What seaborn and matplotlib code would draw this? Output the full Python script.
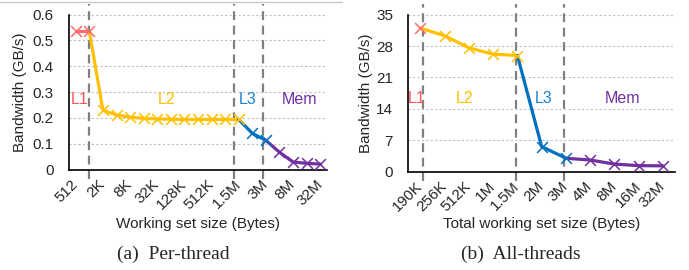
import numpy as np
import pandas as pd
import matplotlib
matplotlib.use('Agg')
import matplotlib.pyplot as plt
import seaborn as sns
from matplotlib.lines import Line2D

# (a) per-thread sweep
pt_sizes = ['512', '1K', '2K', '4K', '8K', '16K', '32K', '64K', '128K', '256K',
            '512K', '1M', '1.5M', '2M', '3M', '4M', '8M', '16M', '32M']
pt_bw = [0.535, 0.535, 0.230, 0.211, 0.203, 0.198, 0.196, 0.195, 0.194, 0.194,
         0.194, 0.194, 0.194, 0.140, 0.113, 0.067, 0.029, 0.024, 0.021]
pt_level = ['L1'] * 2 + ['L2'] * 11 + ['L3'] * 2 + ['Mem'] * 4
pt_bounds = [1.0, 11.65, 13.8]

# (b) all-threads sweep
at_sizes = ['190K', '256K', '512K', '1M', '1.5M', '2M', '3M', '4M', '8M', '16M', '32M']
at_bw = [32.0, 30.3, 27.6, 26.2, 25.9, 5.6, 3.0, 2.6, 1.7, 1.35, 1.3]
at_level = ['L1'] + ['L2'] * 4 + ['L3'] * 2 + ['Mem'] * 4
at_bounds = [0.1, 3.95, 5.93]

LEVELS = ['L1', 'L2', 'L3', 'Mem']
COLORS = {'L1': '#FF6B6B', 'L2': '#FFC000', 'L3': '#0070C0', 'Mem': '#7030A0'}
TEXT_COLORS = {'L1': '#FF5555', 'L2': '#FFC000', 'L3': '#1A82CF', 'Mem': '#7030A0'}
FS = 11

sns.set_style('white')
plt.rcParams['font.family'] = ['Liberation Sans', 'DejaVu Sans']


def draw_sweep(ax, sizes, bw, level):
    df = pd.DataFrame({'pos': np.arange(len(sizes)), 'bw': bw, 'level': level})
    prev = None
    for lv in LEVELS:
        seg = df[df['level'] == lv]
        line = seg if prev is None else pd.concat([prev.tail(1), seg])
        if len(line) > 1:
            sns.lineplot(data=line, x='pos', y='bw', color=COLORS[lv], lw=2.3,
                         ax=ax, sort=False, estimator=None, zorder=3)
        sns.scatterplot(data=seg, x='pos', y='bw', marker='x', s=60,
                        color=COLORS[lv], linewidth=1.1, ax=ax, zorder=4)
        prev = seg


def style_axes(ax, n, yticks, ylabels, bounds, label_every, xlabels, ylab_x, xlab, xlab_y):
    ax.set_xlim(-0.5, n - 0.5)
    ax.set_ylim(0, yticks[-1])
    ax.set_yticks(yticks)
    ax.set_yticklabels(ylabels, fontsize=FS)
    ax.yaxis.grid(True, color='#C0C0C0', lw=0.8, linestyle=(0, (2, 2)))
    ax.xaxis.grid(False)
    ax.set_axisbelow(True)
    for s in ['top', 'right']:
        ax.spines[s].set_visible(False)
    for s in ['left', 'bottom']:
        ax.spines[s].set_color('black')
        ax.spines[s].set_linewidth(1.2)
    ax.tick_params(axis='y', direction='out', length=3, width=1, pad=8)
    # labels at category centres, tick marks on category boundaries
    ax.set_xticks(np.arange(0, n, label_every))
    ax.set_xticklabels(xlabels, rotation=45, ha='right', va='center',
                       rotation_mode='anchor', fontsize=FS)
    ax.tick_params(axis='x', which='major', length=0, pad=9)
    ax.set_xticks(np.arange(label_every - 0.5, n, label_every), minor=True)
    ax.tick_params(axis='x', which='minor', direction='in', length=3.5, width=1.2)
    for b in bounds:
        ax.axvline(b, ymin=-0.06, ymax=1.07, color='#808080', lw=1.6,
                   linestyle=(0, (4, 2.5)), clip_on=False, zorder=2)
    ax.set_ylabel('Bandwidth (GB/s)', fontsize=FS)
    ax.yaxis.set_label_coords(ylab_x, 0.5)
    ax.set_xlabel(xlab, fontsize=FS)
    ax.xaxis.set_label_coords(0.5, xlab_y)


fig = plt.figure(figsize=(6.89, 2.70), dpi=100)
ax1 = fig.add_axes([0.1001, 0.3722, 0.3745, 0.5734])
ax2 = fig.add_axes([0.5926, 0.3641, 0.3871, 0.5815])

draw_sweep(ax1, pt_sizes, pt_bw, pt_level)
style_axes(ax1, len(pt_sizes), [0, 0.1, 0.2, 0.3, 0.4, 0.5, 0.6],
           ['0', '0.1', '0.2', '0.3', '0.4', '0.5', '0.6'], pt_bounds, 2, pt_sizes[::2],
           -0.163, 'Working set size (Bytes)', -0.305)

draw_sweep(ax2, at_sizes, at_bw, at_level)
style_axes(ax2, len(at_sizes), [0, 7, 14, 21, 28, 35],
           ['0', '7', '14', '21', '28', '35'], at_bounds, 1, at_sizes,
           -0.132, 'Total working set size (Bytes)', -0.288)

# cache-level tags
for lv, x in zip(LEVELS, [0.3, 6.7, 12.68, 16.5]):
    ax1.text(x, 0.27, lv, color=TEXT_COLORS[lv], fontsize=11.5, ha='center', va='center')
for lv, x in zip(LEVELS, [-0.15, 1.81, 5.1, 8.34]):
    ax2.text(x, 16.4, lv, color=TEXT_COLORS[lv], fontsize=11.5, ha='center', va='center')

fig.text(173 / 689, 1 - 254 / 270, '(a)  Per-thread', family='Liberation Serif',
         fontsize=14, ha='center', va='center')
fig.text(521 / 689, 1 - 254 / 270, '(b)  All-threads', family='Liberation Serif',
         fontsize=14, ha='center', va='center')
fig.add_artist(Line2D([0, 342 / 689], [1 - 2 / 270] * 2, color='#C8C8C8', lw=1,
                      transform=fig.transFigure))

fig.savefig('out.png', dpi=100)
